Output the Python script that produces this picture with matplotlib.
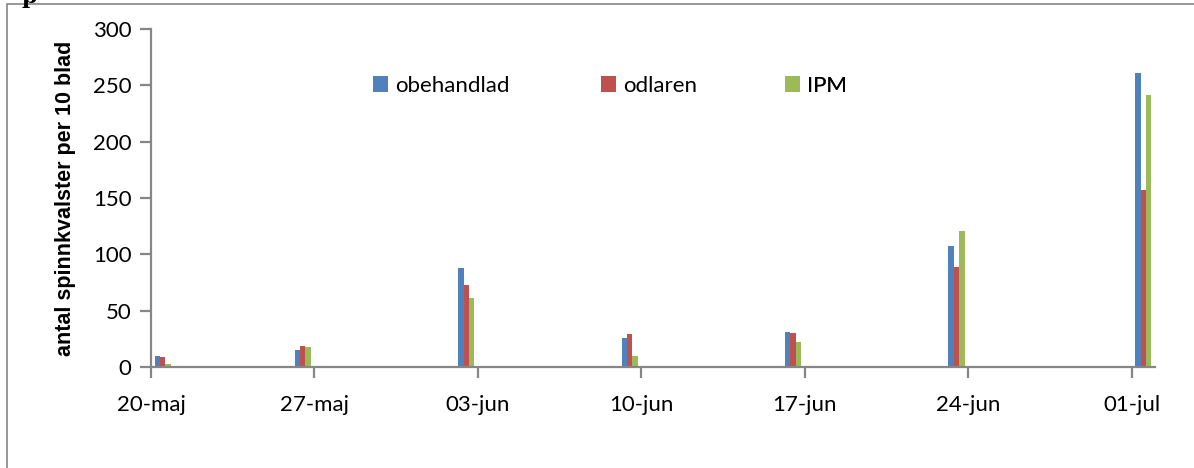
import numpy as np
import matplotlib.pyplot as plt
from matplotlib.patches import Rectangle, Patch

# Data (days counted from 20-maj)
tick_labels = ['20-maj', '27-maj', '03-jun', '10-jun', '17-jun', '24-jun', '01-jul']
tick_days = [0, 7, 14, 21, 28, 35, 42]
sample_days = [0, 6, 13, 20, 27, 34, 42]   # 20-maj, 26-maj, 02-jun, 09-jun, 16-jun, 23-jun, 01-jul
obehandlad = [10, 15, 88, 26, 31, 107, 261]
odlaren = [9, 19, 73, 29, 30, 89, 157]
ipm = [3, 18, 61, 10, 22, 121, 241]

series = [('obehandlad', obehandlad, '#4F81BD'),
          ('odlaren', odlaren, '#C0504D'),
          ('IPM', ipm, '#9BBB59')]

grey = '#868686'
tickfont = 'Lato'

fig = plt.figure(figsize=(11.94, 4.68), dpi=100)
ax = fig.add_axes([151/1194, 1 - 367/468, (1155 - 151)/1194, (367 - 29)/468])

x = np.array(sample_days) + 0.5
w = 0.23
for i, (name, vals, col) in enumerate(series):
    ax.bar(x + (i - 1) * w, vals, width=w, color=col, label=name)

ax.set_xlim(0, 43)
ax.set_ylim(0, 300)
ax.set_xticks(tick_days)
ax.set_xticklabels(tick_labels)
ax.set_yticks(np.arange(0, 301, 50))

for s in ['top', 'right']:
    ax.spines[s].set_visible(False)
for s in ['left', 'bottom']:
    ax.spines[s].set_color(grey)
    ax.spines[s].set_linewidth(1.6)
ax.tick_params(axis='both', direction='out', length=8, width=1.6, color=grey,
               labelsize=16, pad=6)
ax.tick_params(axis='x', pad=12)
for lab in ax.get_xticklabels() + ax.get_yticklabels():
    lab.set_fontfamily(tickfont)

ax.set_ylabel('antal spinnkvalster per 10 blad', fontsize=15.5, fontweight='bold',
              family='Liberation Sans', labelpad=12)

# legend entries placed one by one
legend_x = [366, 594, 778]
for (name, vals, col), lx in zip(series, legend_x):
    h = Patch(facecolor=col, edgecolor='none')
    leg = ax.legend(handles=[h], labels=[name], loc='center left',
                    bbox_to_anchor=(lx / 1194 - 0.011, 1 - 86 / 468),
                    bbox_transform=fig.transFigure, frameon=False,
                    handlelength=0.7, handleheight=0.7, handletextpad=0.3,
                    prop={'family': tickfont, 'size': 16})
    ax.add_artist(leg)

# chart area border
fig.patches.append(Rectangle((7/1194, -0.05), 1.1, 1.05 - 4/468,
                             transform=fig.transFigure, fill=False,
                             edgecolor=grey, linewidth=1.2))
fig.text(22/1194, 1 + 14/468, 'p', family='DejaVu Serif', fontweight='bold',
         fontsize=16, va='top')

fig.savefig('out.png', dpi=100)
